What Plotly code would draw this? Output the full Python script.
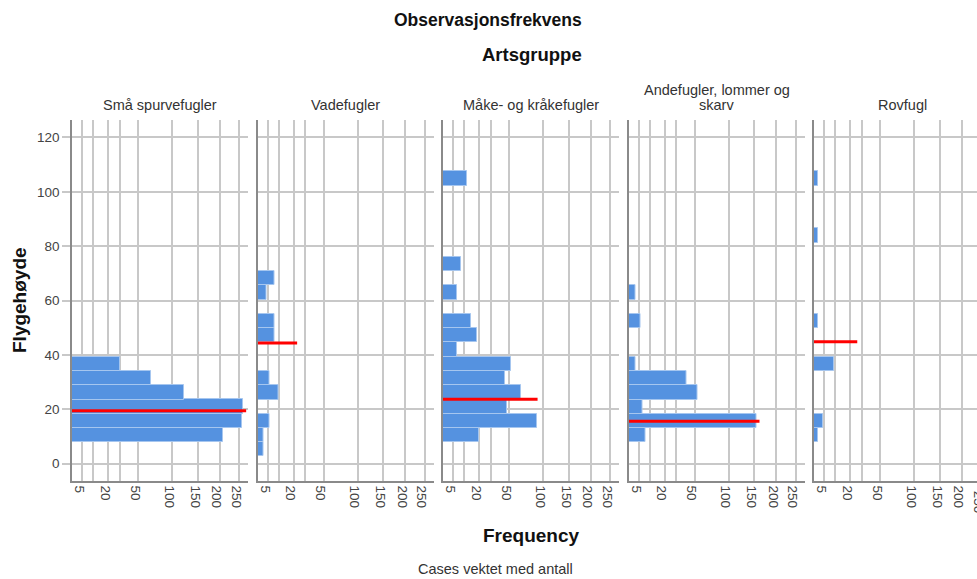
import math
import plotly.graph_objects as go

# ---------------- data ----------------
groups = ["Små spurvefugler", "Vadefugler", "Måke- og kråkefugler",
          "Andefugler, lommer og<br>skarv", "Rovfugl"]

# bin centres of flight height (m), bin width ~5.24
bin_centers = [5.3, 10.5, 15.7, 21.0, 26.2, 31.5, 36.7, 42.0, 47.2, 52.5,
               57.7, 62.9, 68.2, 73.4, 78.7, 83.9, 89.2, 94.4, 99.7, 104.9]
bin_width = 5.244

freq_sma = [0, 209, 259, 260, 122, 67, 30, 0, 0, 0, 0, 0, 0, 0, 0, 0, 0, 0, 0, 0]
freq_vade = [3.5, 3.5, 5.7, 0, 9.8, 5.7, 0, 0, 7.8, 7.8, 0, 4.4, 7.8, 0, 0, 0, 0, 0, 0, 0]
freq_make = [0, 20, 90, 47, 66, 45, 52, 6.5, 18.5, 14, 0, 6.5, 0, 8.5, 0, 0, 0, 0, 0, 11.5]
freq_ande = [0, 8, 155, 6.5, 53, 40, 3.6, 0, 0, 5.7, 0, 3.6, 0, 0, 0, 0, 0, 0, 0, 0]
freq_rov = [0, 2.8, 4.6, 0, 0, 0, 9.5, 0, 0, 2.8, 0, 0, 0, 0, 0, 2.8, 0, 0, 0, 2.8]
freqs = [freq_sma, freq_vade, freq_make, freq_ande, freq_rov]

# red reference line per group: height and frequency extent
ref_height = [19.4, 44.4, 23.7, 15.6, 44.8]
ref_extent = [270, 22.7, 90.8, 161, 25.8]

x_tick_values = [5, 10, 20, 30, 50, 100, 150, 200, 250]
x_tick_labels = ["5", "", "20", "", "50", "100", "150", "200", "250"]
y_tick_values = [0, 20, 40, 60, 80, 100, 120]

# ---------------- layout geometry ----------------
W, H = 977, 579
ML, MR, MT, MB = 72, 0, 120, 98
PW = W - ML - MR
PH = H - MT - MB
panel_step = 185.5
panel_w = 176
s0 = 1.327           # sqrt-axis lower bound
px_per_s = 11.53

bar_color = "#5592e0"
grid_color = "#c8c8c8"
axis_color = "#8a8a8a"
FONT = "Liberation Sans"


def px_to_paper_y(py):
    return (H - MB - py) / PH


def px_to_paper_x(px):
    return (px - ML) / PW


fig = go.Figure()

for i, g in enumerate(groups):
    xa = "x" if i == 0 else f"x{i+1}"
    ya = "y" if i == 0 else f"y{i+1}"
    xs, ys = [], []
    for c, f in zip(bin_centers, freqs[i]):
        if f > 0:
            xs.append(math.sqrt(f))
            ys.append(c)
    fig.add_trace(go.Bar(
        x=xs, y=ys, orientation="h", width=bin_width,
        marker=dict(color=bar_color, line=dict(color="#a6c6ef", width=1)),
        xaxis=xa, yaxis=ya, showlegend=False, hoverinfo="skip"))
    fig.add_trace(go.Scatter(
        x=[s0 - 0.05, math.sqrt(ref_extent[i])], y=[ref_height[i], ref_height[i]],
        mode="lines", line=dict(color="#ff0000", width=3),
        xaxis=xa, yaxis=ya, showlegend=False, hoverinfo="skip"))

    d0 = (panel_step * i) / PW
    d1 = min(1.0, (panel_step * i + panel_w) / PW)
    s1 = s0 + (d1 - d0) * PW / px_per_s
    xkey = "xaxis" if i == 0 else f"xaxis{i+1}"
    ykey = "yaxis" if i == 0 else f"yaxis{i+1}"
    fig.layout[xkey] = dict(
        domain=[d0, d1], range=[s0, s1], anchor=ya,
        tickvals=[math.sqrt(v) for v in x_tick_values], ticktext=x_tick_labels,
        tickangle=90, tickfont=dict(size=13.5, color="#444444", family=FONT),
        showgrid=True, gridcolor=grid_color, gridwidth=1.5,
        showline=True, linecolor=axis_color, linewidth=1.5,
        ticks="", zeroline=False, ticklabelshift=-3)
    fig.layout[ykey] = dict(
        domain=[0, 1], range=[-6.4, 126.4], anchor=xa,
        tickvals=y_tick_values, showticklabels=(i == 0),
        tickfont=dict(size=13.5, color="#444444", family=FONT),
        showgrid=True, gridcolor=grid_color, gridwidth=1.5,
        showline=True, linecolor=axis_color, linewidth=1.5,
        ticks="outside" if i == 0 else "", ticklen=8, tickcolor=grid_color, tickwidth=1.5,
        zeroline=False)
    if i > 0:
        fig.layout[ykey]["matches"] = "y"

    # facet title (each line placed separately for tight line spacing)
    cx = (panel_step * i + panel_w / 2) / PW
    lines = g.split("<br>")
    n = len(lines)
    for j, line in enumerate(lines):
        py = 105 - (n - 1 - j) * 15
        fig.add_annotation(text=line, xref="paper", yref="paper", x=cx,
                           y=px_to_paper_y(py), xanchor="center", yanchor="middle",
                           showarrow=False,
                           font=dict(size=14.5, color="#333333", family=FONT))

# partially visible "250" label of last panel (cut by the image edge, as in the source)
fig.add_annotation(text="250", xref="paper", yref="paper",
                   x=(814 + 167 - 3 - ML) / PW, y=-0.02, yanchor="top", xanchor="center",
                   textangle=90, showarrow=False,
                   font=dict(size=13.5, color="#444444", family=FONT))

fig.add_annotation(text="<b>Observasjonsfrekvens</b>", xref="paper", yref="paper",
                   x=px_to_paper_x(488), y=px_to_paper_y(20), showarrow=False,
                   xanchor="center", yanchor="middle",
                   font=dict(size=17.5, color="#111111", family=FONT))
fig.add_annotation(text="<b>Artsgruppe</b>", xref="paper", yref="paper",
                   x=px_to_paper_x(532), y=px_to_paper_y(55), showarrow=False,
                   xanchor="center", yanchor="middle",
                   font=dict(size=18.5, color="#111111", family=FONT))
fig.add_annotation(text="<b>Frequency</b>", xref="paper", yref="paper",
                   x=px_to_paper_x(531), y=px_to_paper_y(535), showarrow=False,
                   xanchor="center", yanchor="middle",
                   font=dict(size=19, color="#111111", family=FONT))
fig.add_annotation(text="Cases vektet med antall", xref="paper", yref="paper",
                   x=px_to_paper_x(495), y=px_to_paper_y(569), showarrow=False,
                   xanchor="center", yanchor="middle",
                   font=dict(size=14.5, color="#333333", family=FONT))
fig.add_annotation(text="<b>Flygehøyde</b>", xref="paper", yref="paper",
                   x=px_to_paper_x(19), y=px_to_paper_y(300), showarrow=False,
                   xanchor="center", yanchor="middle", textangle=-90,
                   font=dict(size=19, color="#111111", family=FONT))

fig.update_layout(
    width=W, height=H, margin=dict(l=ML, r=MR, t=MT, b=MB),
    paper_bgcolor="white", plot_bgcolor="white", bargap=0, showlegend=False,
    font=dict(family=FONT))

fig.write_html("out.html")
